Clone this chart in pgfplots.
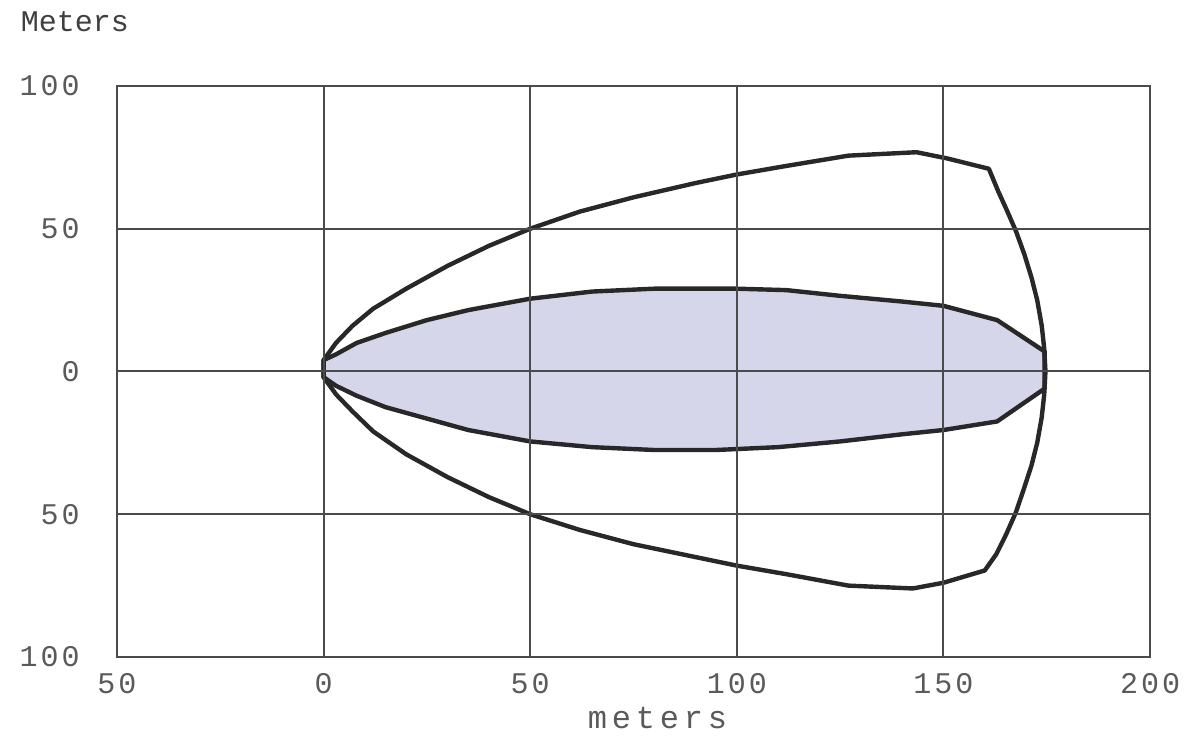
\documentclass[border=0pt]{standalone}
\usepackage{fontspec}
\usepackage{pgfplots}
\pgfplotsset{compat=1.18}
\setmainfont{Liberation Mono}
\newfontfamily\tickfont[LetterSpace=10]{Liberation Mono}
\newfontfamily\labfont[LetterSpace=15]{Liberation Mono}
\definecolor{fillc}{RGB}{214,214,234}
\definecolor{linec}{RGB}{40,40,40}
\definecolor{gridc}{RGB}{75,75,75}
\definecolor{textc}{RGB}{90,90,90}
\begin{document}
\begin{tikzpicture}
\begin{axis}[name=ax, scale only axis, width=516.5pt, height=285.5pt,
 xmin=-50, xmax=200, ymin=-100, ymax=100,
 xtick={-50,0,50,100,150,200}, xticklabels={50,0,50,100,150,200},
 ytick={-100,-50,0,50,100}, yticklabels={100,50,0,50,100},
 grid=major, major grid style={draw=gridc, line width=1pt},
 axis line style={draw=gridc, line width=1.1pt},
 major tick length=0pt,
 axis on top, clip=false,
 ticklabel style={font=\fontsize{15}{15}\selectfont\tickfont, text=textc, inner sep=0pt},
 xticklabel style={anchor=north, yshift=-8pt},
 yticklabel style={anchor=east, xshift=-18.5pt},
]
% inner zone (filled)
\addplot[draw=linec, line width=2.2pt, fill=fillc, line join=round] coordinates {
(0,4) (3,6) (8,10) (15,13.5) (25,18) (35,21.5) (50,25.5) (65,28) (80,29) (100,29) (112,28.5) (125,26.5) (140,24.5) (150,23) (163,18) (174.5,7)
(174.5,-6) (163,-17.5) (150,-20.5) (140,-22) (125,-24.5) (110,-26.5) (95,-27.5) (80,-27.5) (65,-26.5) (50,-24.5) (35,-20.5) (25,-16.5) (15,-12.5) (8,-8.5) (3,-5) (0,-2)
} -- cycle;
% outer zone
\addplot[draw=linec, line width=2.2pt, line join=round] coordinates {
(0,4) (3,10) (7,16) (12,22) (20,29) (30,37) (40,44) (50,50) (62,56) (75,61) (90,66) (100,69) (112,72) (127,75.6) (143.5,76.8) (151,74.6) (161,71)
(163.3,63) (165.5,56) (167.6,49) (169.6,41) (171.3,33) (172.7,25) (173.8,16) (174.4,8) (174.7,0)
(174.4,-8) (173.8,-16) (172.7,-25) (171.3,-33) (169.5,-41) (167.5,-49.5) (165.2,-57) (162.8,-64) (160,-69.7)
(150,-74) (142.6,-76) (127,-75) (112,-71) (100,-68) (90,-65) (75,-60.5) (62,-55.5) (50,-50) (40,-44) (30,-37) (20,-29) (12,-21) (7,-14) (3,-8) (0,-2)
} -- cycle;
\node[font=\fontsize{15}{15}\selectfont, text=textc!70!black, anchor=center] at ([xshift=-21pt,yshift=32pt]rel axis cs:0,1) {Meters};
\node[font=\fontsize{16}{16}\selectfont\labfont, text=textc, anchor=center] at ([xshift=12pt,yshift=-30.5pt]rel axis cs:0.5,0) {meters};
\end{axis}
\path ([xshift=-58.5pt,yshift=-39pt]ax.south west) rectangle ([xshift=19pt,yshift=43pt]ax.north east);
\end{tikzpicture}
\end{document}
